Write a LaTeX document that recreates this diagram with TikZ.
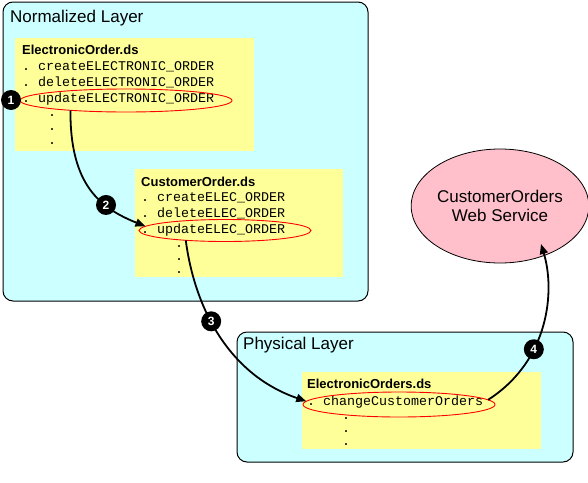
\documentclass[tikz,border=0pt]{standalone}
\usepackage{fontspec}
\setmainfont{Liberation Sans}
\setmonofont{Liberation Mono}
\usetikzlibrary{arrows.meta,shapes.geometric}
\definecolor{layercyan}{HTML}{CCFFFF}
\definecolor{fileyellow}{HTML}{FFFF99}
\definecolor{wspink}{HTML}{FFC0CB}
\begin{document}
\begin{tikzpicture}[x=1pt,y=-1pt,
  layer/.style={draw=black, line width=1pt, fill=layercyan, rounded corners=10pt, anchor=north west, inner sep=0pt, outer sep=0pt},
  filebox/.style={fill=fileyellow, anchor=north west, inner sep=0pt, outer sep=0pt},
  layertitle/.style={anchor=base west, inner sep=0pt, font=\fontsize{17}{20}\selectfont},
  filetitle/.style={anchor=base west, inner sep=0pt, font=\fontsize{13}{15}\selectfont\bfseries},
  op/.style={anchor=base west, inner sep=0pt, font=\fontsize{13.33}{16}\selectfont\ttfamily},
  vdot/.style={anchor=base, inner sep=0pt, font=\fontsize{13.33}{16}\selectfont\ttfamily},
  sel/.style={ellipse, draw=red, line width=0.9pt, inner sep=0pt, outer sep=0pt},
  wsell/.style={ellipse, draw=black, line width=0.8pt, fill=wspink, inner sep=0pt, outer sep=0pt, align=center, font=\fontsize{17}{19}\selectfont},
  flow/.style={line width=1.8pt, -{Triangle[length=10pt,width=8pt]}},
  marker/.style={circle, fill=black, text=white, inner sep=0pt, minimum size=20pt, font=\fontsize{12}{12}\selectfont\bfseries},
]
\useasboundingbox (0,0) rectangle (588,482);
\fill[white] (0,0) rectangle (588,482);

% layers
\node[layer, minimum width=365pt, minimum height=299pt] (nl) at (3,2) {};
\node[layer, minimum width=336pt, minimum height=130pt] (pl) at (237,332) {};
\node[layertitle] (tnl) at (10,22) {Normalized Layer};
\node[layertitle] (tpl) at (243,349) {Physical Layer};

% file boxes
\node[filebox, minimum width=239pt, minimum height=113pt] (eo) at (15,38) {};
\node[filebox, minimum width=208pt, minimum height=108pt] (co) at (135,169) {};
\node[filebox, minimum width=239pt, minimum height=77pt] (eos) at (302,372) {};

% ElectronicOrder.ds
\node[filetitle] (teo) at (22,54) {ElectronicOrder.ds};
\node[op] (eo1) at (22,70.5) {. createELECTRONIC\_ORDER};
\node[op] (eo2) at (22,86.3) {. deleteELECTRONIC\_ORDER};
\node[op] (eo3) at (22,102) {. updateELECTRONIC\_ORDER};
\node[vdot] (d1) at (52,116.5) {.};
\node[vdot] (d2) at (52,130) {.};
\node[vdot] (d3) at (52,144) {.};

% CustomerOrder.ds
\node[filetitle] (tco) at (141,186) {CustomerOrder.ds};
\node[op] (co1) at (141,201.5) {. createELEC\_ORDER};
\node[op] (co2) at (141,217.5) {. deleteELEC\_ORDER};
\node[op] (co3) at (141,233.5) {. updateELEC\_ORDER};
\node[vdot] (d4) at (179,247.5) {.};
\node[vdot] (d5) at (179,260.5) {.};
\node[vdot] (d6) at (179,273.5) {.};

% ElectronicOrders.ds
\node[filetitle] (teos) at (307,388.3) {ElectronicOrders.ds};
\node[op] (eos1) at (307,405) {. changeCustomerOrders};
\node[vdot] (d7) at (346,419.5) {.};
\node[vdot] (d8) at (346,432) {.};
\node[vdot] (d9) at (346,445) {.};

% selections
\node[sel, minimum width=212pt, minimum height=23pt] (e1) at (126,100.5) {};
\node[sel, minimum width=172pt, minimum height=22pt] (e2) at (225,230.5) {};
\node[sel, minimum width=192pt, minimum height=25pt] (e3) at (399,404.5) {};

% web service
\node[wsell, minimum width=171pt, minimum height=114pt] (ws) at (500,206) {CustomerOrders\\Web Service};
\coordinate (wsin) at (541,244);

% flows
\draw[flow] (e1.190) .. controls (70,185) and (100,208) .. node[marker,pos=0.67] (m2) {2} (e2.177);
\draw[flow] (e2.194) .. controls (195,310) and (230,375) .. node[marker,pos=0.41] (m3) {3} (e3.178);
\draw[flow] (e3.3) .. controls (550,360) and (555,290) .. node[marker,pos=0.35] (m4) {4} (wsin);
\node[marker] (m1) at (11,100) {1};
\end{tikzpicture}
\end{document}
